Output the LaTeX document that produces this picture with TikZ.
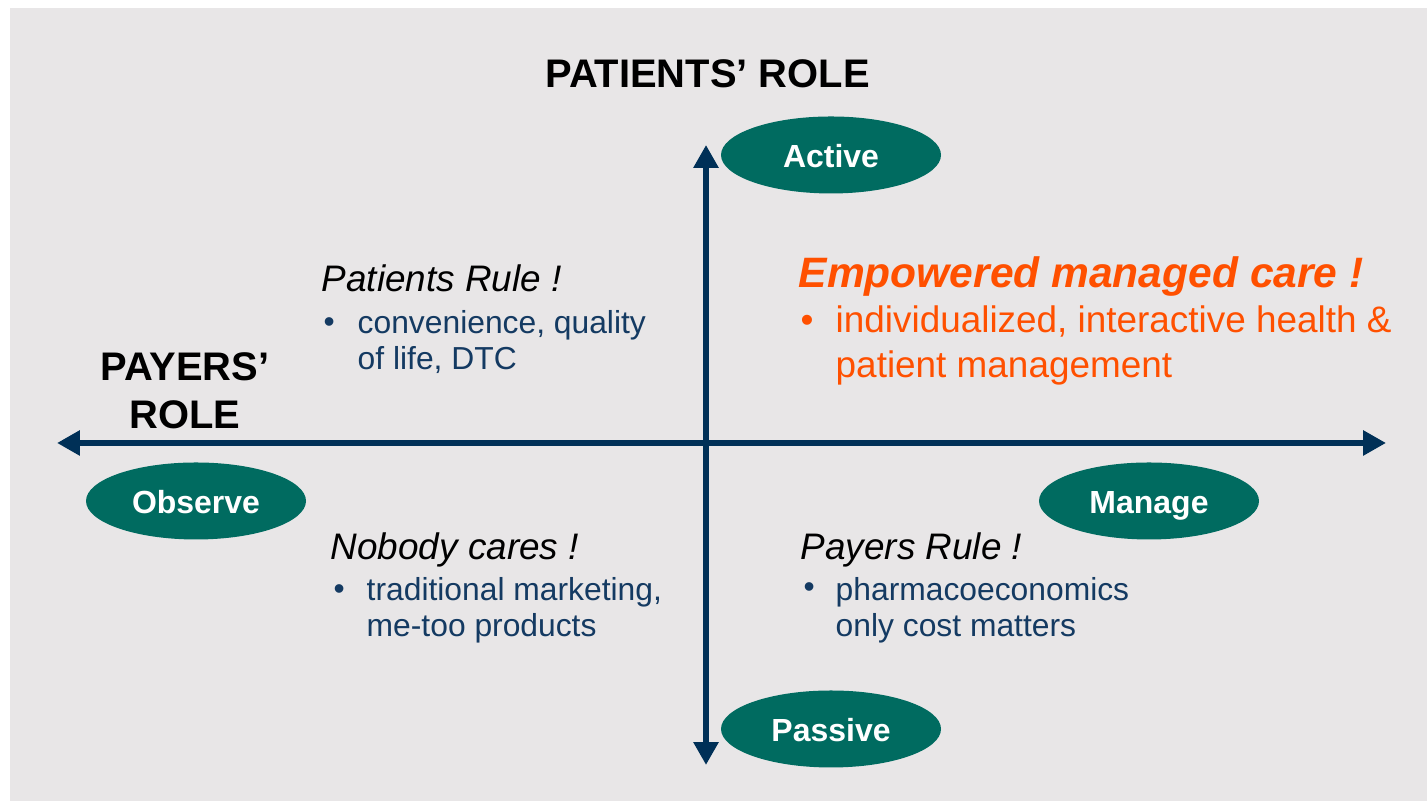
\documentclass[tikz,border=0pt]{standalone}
\usepackage{fontspec}
\setmainfont{Liberation Sans}
\usetikzlibrary{shapes.geometric, arrows.meta, positioning}
\definecolor{bggray}{RGB}{232,230,231}
\definecolor{axisnavy}{RGB}{0,48,87}
\definecolor{ovalteal}{RGB}{0,107,96}
\definecolor{bulletnavy}{RGB}{20,58,98}
\definecolor{careorange}{RGB}{255,80,0}

\begin{document}
\begin{tikzpicture}[
    node distance=0.3cm,
    axis/.style={<->, >={Triangle[length=6.5pt, width=6.8pt]}, line width=1.7pt, draw=axisnavy},
    oval/.style={ellipse, fill=ovalteal, minimum width=2.2cm, minimum height=0.77cm, inner sep=0pt, text=white, text height=0.72em, text depth=0pt, font=\fontsize{9.1}{11}\selectfont\bfseries},
    rolelabel/.style={inner sep=0pt, align=center, font=\fontsize{11.35}{13.7}\selectfont\bfseries},
    quadhead/.style={inner sep=0pt, anchor=base west, font=\fontsize{10.5}{12.6}\selectfont\itshape},
    quadtext/.style={inner sep=0pt, align=left, anchor=base west, text=bulletnavy, font=\fontsize{9.05}{10.5}\selectfont},
    dotmark/.style={inner sep=0pt, anchor=base west, text=bulletnavy, font=\fontsize{9.05}{10.5}\selectfont}
]
    \useasboundingbox (0,0) rectangle (14.27,8.01);
    \fill[bggray] (0.10,0) rectangle (14.27,7.93);

    % Axes
    \coordinate (west) at (0.57,3.58);
    \coordinate (east) at (13.86,3.58);
    \coordinate (south) at (7.06,0.36);
    \coordinate (north) at (7.06,6.56);
    \draw[axis] (west) -- (east);
    \draw[axis] (south) -- (north);

    % Axis titles
    \node[rolelabel, anchor=base] (patrole) at (7.075,7.13) {PATIENTS’ ROLE};
    \node[rolelabel, anchor=south] (payrole) at (1.85,3.71) {PAYERS’\\ROLE};

    % Ends of the axes
    \node[oval] (active) at (8.31,6.46) {Active};
    \node[oval] (passive) at (8.31,0.72) {Passive};
    \node[oval] (observe) at (1.96,3.00) {Observe};
    \node[oval] (manage) at (11.49,3.00) {Manage};

    % Quadrants (text nodes sit on the baseline of their last line)
    \node[quadhead] (prhead) at (3.21,5.09) {Patients Rule !};
    \node[dotmark] (prdot) at (3.23,4.68) {•};
    \node[quadtext] (prtext) at (3.57,4.31) {convenience, quality\\of life, DTC};

    \node[quadhead, font=\fontsize{12.1}{14.5}\selectfont\bfseries\itshape, text=careorange] (emhead) at (7.98,5.13) {Empowered managed care !};
    \node[dotmark, text=careorange, font=\fontsize{10.5}{12.8}\selectfont] (emdot) at (8.00,4.68) {•};
    \node[quadtext, text=careorange, font=\fontsize{10.5}{12.8}\selectfont] (emtext) at (8.35,4.23) {individualized, interactive health \&\\patient management};

    \node[quadhead] (nchead) at (3.30,2.41) {Nobody cares !};
    \node[dotmark] (ncdot) at (3.33,2.01) {•};
    \node[quadtext] (nctext) at (3.66,1.64) {traditional marketing,\\me-too products};

    \node[quadhead] (pyhead) at (8.00,2.41) {Payers Rule !};
    \node[dotmark] (pydot) at (8.03,2.03) {•};
    \node[quadtext] (pytext) at (8.35,1.64) {pharmacoeconomics\\only cost matters};
\end{tikzpicture}
\end{document}
